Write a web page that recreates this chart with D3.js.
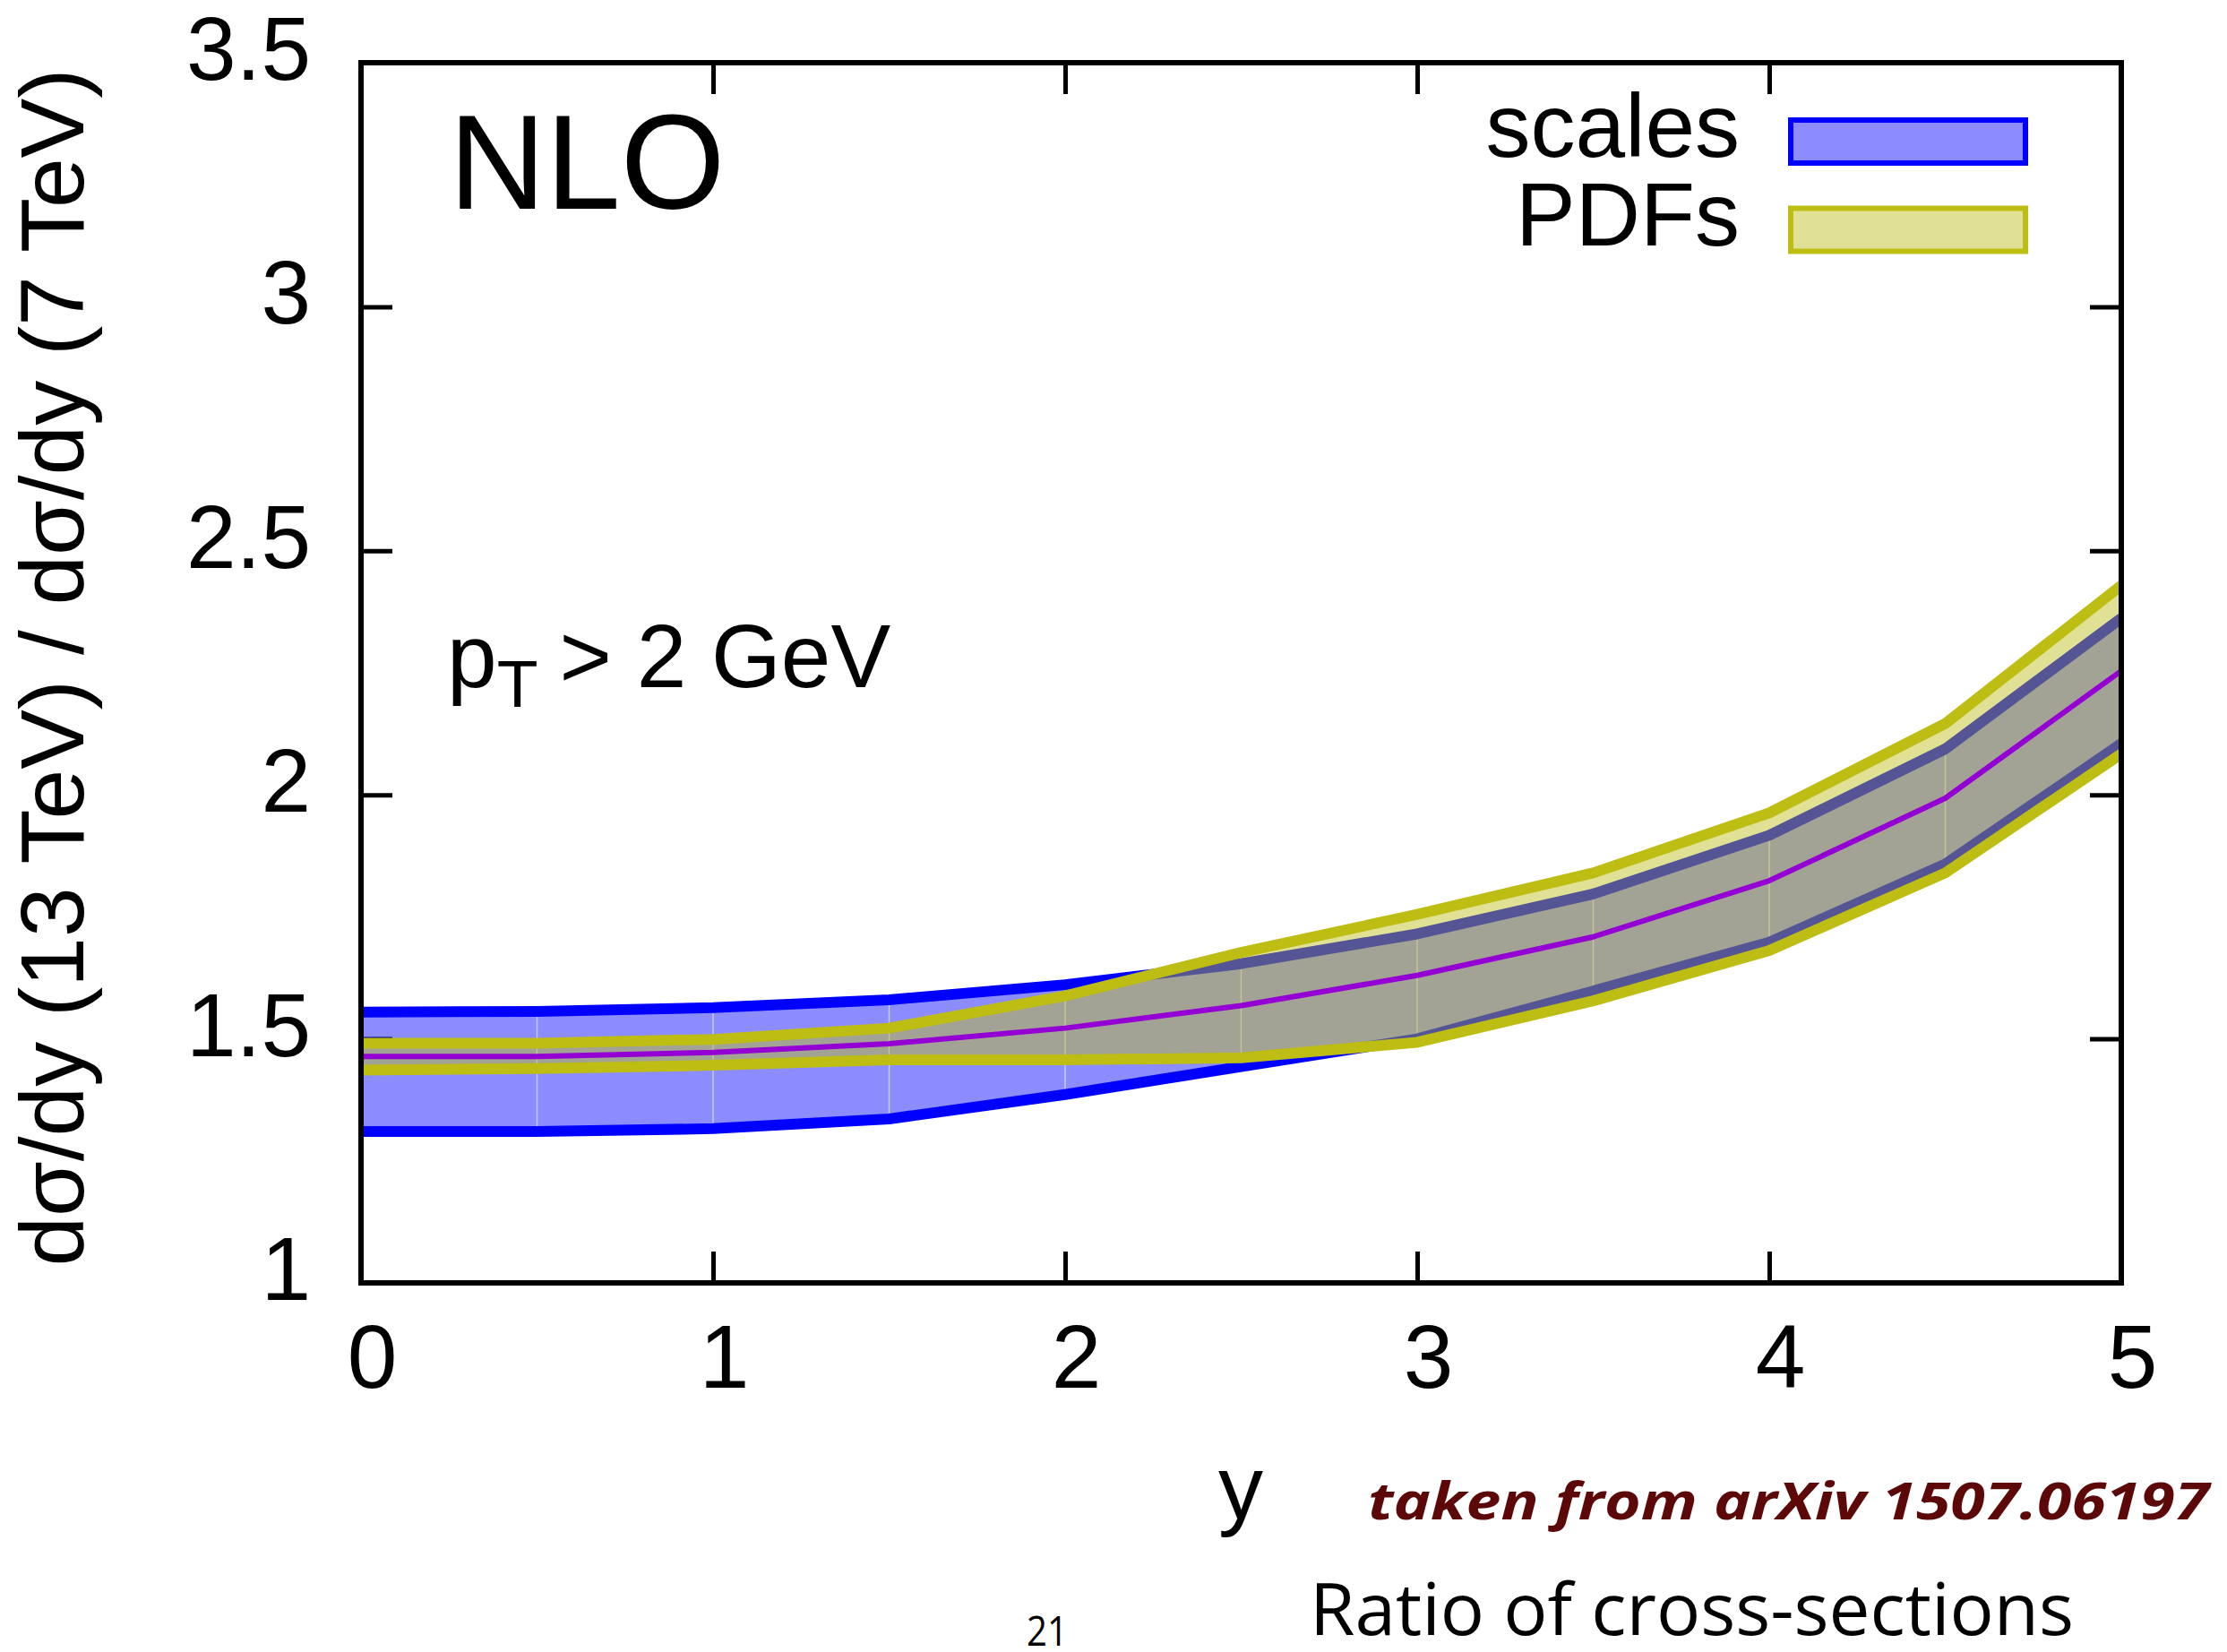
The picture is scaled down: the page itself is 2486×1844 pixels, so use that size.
<!DOCTYPE html>
<html>
<head>
<meta charset="utf-8">
<script src="https://cdn.jsdelivr.net/npm/d3@7"></script>
<style>
  html, body { margin: 0; padding: 0; background: #ffffff; }
  svg { display: block; }
</style>
</head>
<body>
<script>
// ---------- data ----------
const rapidity     = [0, 0.5, 1, 1.5, 2, 2.5, 3, 3.5, 4, 4.5, 5];
const scalesUpper  = [1.555, 1.556, 1.564, 1.580, 1.611, 1.654, 1.715, 1.797, 1.917, 2.094, 2.362];
const scalesLower  = [1.310, 1.310, 1.316, 1.336, 1.386, 1.443, 1.500, 1.598, 1.698, 1.858, 2.105];
const pdfUpper     = [1.491, 1.491, 1.499, 1.522, 1.588, 1.677, 1.755, 1.840, 1.963, 2.146, 2.429];
const pdfLower     = [1.436, 1.439, 1.446, 1.457, 1.457, 1.461, 1.493, 1.578, 1.681, 1.840, 2.084];
const central      = [1.464, 1.464, 1.472, 1.490, 1.522, 1.568, 1.630, 1.709, 1.824, 1.993, 2.254];
const xTicks       = [0, 1, 2, 3, 4, 5];
const yTicks       = [1, 1.5, 2, 2.5, 3, 3.5];
const yTickLabels  = ["1", "1.5", "2", "2.5", "3", "3.5"];
const legendLabels = ["scales", "PDFs"];

// ---------- layout ----------
const W = 2486, H = 1844;
const L = 403, R = 2368, T = 70, B = 1432;
const BLUE = "#0000ff", OLIVE = "#bdbd14", PURPLE = "#9400d3";
const FONT = "'Liberation Sans', Arial, Helvetica, sans-serif";

const svg = d3.select("body").append("svg")
  .attr("width", W).attr("height", H)
  .attr("viewBox", `0 0 ${W} ${H}`)
  .style("background", "#fff");

const x = d3.scaleLinear().domain([0, 5]).range([L, R]);
const y = d3.scaleLinear().domain([1, 3.5]).range([B, T]);

// ---------- axes (ticks inward) ----------
const tickLen = 35;
function styleAxis(g) {
  g.select(".domain").remove();
  g.selectAll(".tick line").attr("stroke", "#000").attr("stroke-width", 5);
}
svg.append("g").attr("transform", `translate(${L},0)`)
  .call(d3.axisLeft(y).tickValues(yTicks).tickSize(-tickLen).tickPadding(56)
        .tickFormat((d, i) => yTickLabels[i]))
  .call(styleAxis)
  .call(g => g.selectAll("text").attr("font-family", FONT).attr("font-size", 100)
        .attr("fill", "#000").attr("dy", "0.185em"));
svg.append("g").attr("transform", `translate(${R},0)`)
  .call(d3.axisRight(y).tickValues(yTicks).tickSize(-tickLen).tickFormat(""))
  .call(styleAxis);
svg.append("g").attr("transform", `translate(0,${B})`)
  .call(d3.axisBottom(x).tickValues(xTicks).tickSize(-tickLen).tickPadding(46)
        .tickFormat(d3.format("d")))
  .call(styleAxis)
  .call(g => g.selectAll("text").attr("font-family", FONT).attr("font-size", 100)
        .attr("fill", "#000").attr("dx", 12));
svg.append("g").attr("transform", `translate(0,${T})`)
  .call(d3.axisTop(x).tickValues(xTicks).tickSize(-tickLen).tickFormat(""))
  .call(styleAxis);

// ---------- bands ----------
svg.append("clipPath").attr("id", "plotclip")
  .append("rect").attr("x", L).attr("y", T).attr("width", R - L).attr("height", B - T);
const plot = svg.append("g").attr("clip-path", "url(#plotclip)");

const idx = d3.range(rapidity.length);
const area = (lo, hi) => d3.area().x(i => x(rapidity[i])).y0(i => y(lo[i])).y1(i => y(hi[i]));
const line = (v) => d3.line().x(i => x(rapidity[i])).y(i => y(v[i]));

// scales band fill
plot.append("path").datum(idx).attr("d", area(scalesLower, scalesUpper))
  .attr("fill", BLUE).attr("fill-opacity", 0.45).attr("stroke", "none");

// faint seams between polygon segments
plot.selectAll("line.seam").data(idx.slice(1, -1)).join("line")
  .attr("class", "seam")
  .attr("x1", i => x(rapidity[i])).attr("x2", i => x(rapidity[i]))
  .attr("y1", i => y(Math.max(scalesUpper[i], pdfUpper[i])) + 6)
  .attr("y2", i => y(Math.min(scalesLower[i], pdfLower[i])) - 6)
  .attr("stroke", "#ffffff").attr("stroke-width", 1.5).attr("stroke-opacity", 0.55);

// scales band borders
[scalesUpper, scalesLower].forEach(v => {
  plot.append("path").datum(idx).attr("d", line(v))
    .attr("fill", "none").attr("stroke", BLUE).attr("stroke-width", 12)
    .attr("stroke-linejoin", "round");
});

// PDF band fill
plot.append("path").datum(idx).attr("d", area(pdfLower, pdfUpper))
  .attr("fill", OLIVE).attr("fill-opacity", 0.45).attr("stroke", "none");

// PDF band borders
[pdfUpper, pdfLower].forEach(v => {
  plot.append("path").datum(idx).attr("d", line(v))
    .attr("fill", "none").attr("stroke", OLIVE).attr("stroke-width", 12)
    .attr("stroke-linejoin", "round");
});

// central value
plot.append("path").datum(idx).attr("d", line(central))
  .attr("fill", "none").attr("stroke", PURPLE).attr("stroke-width", 6)
  .attr("stroke-linejoin", "round");

// ---------- frame ----------
svg.append("rect").attr("x", L).attr("y", T).attr("width", R - L).attr("height", B - T)
  .attr("fill", "none").attr("stroke", "#000").attr("stroke-width", 6);

// ---------- legend ----------
const legendColors = [BLUE, OLIVE];
const leg = svg.append("g");
legendLabels.forEach((lab, i) => {
  const cy = 158 + i * 98.5;
  leg.append("text").attr("x", 1942).attr("y", cy + 17)
    .attr("text-anchor", "end").attr("font-family", FONT).attr("font-size", 100)
    .attr("fill", "#000").text(lab);
  leg.append("rect").attr("x", 1999).attr("y", cy - 24).attr("width", 262).attr("height", 48)
    .attr("fill", legendColors[i]).attr("fill-opacity", 0.45)
    .attr("stroke", legendColors[i]).attr("stroke-width", 6);
});

// ---------- annotations ----------
svg.append("text").attr("x", 501).attr("y", 233)
  .attr("font-family", FONT).attr("font-size", 150).attr("fill", "#000").text("NLO");

const pt = svg.append("text").attr("x", 499).attr("y", 767)
  .attr("font-family", FONT).attr("font-size", 100).attr("fill", "#000");
pt.append("tspan").text("p");
pt.append("tspan").attr("font-size", 75).attr("dy", 22).text("T");
pt.append("tspan").attr("dy", -22).attr("dx", 24).text("> 2 GeV");

// y-axis title
svg.append("text")
  .attr("transform", "translate(93,745) rotate(-90)")
  .attr("text-anchor", "middle").attr("font-family", FONT).attr("font-size", 100)
  .attr("fill", "#000").text("dσ/dy (13 TeV) / dσ/dy (7 TeV)");

// x-axis title
svg.append("text").attr("x", 1385).attr("y", 1695)
  .attr("text-anchor", "middle").attr("font-family", FONT).attr("font-size", 100)
  .attr("fill", "#000").text("y");

// slide annotations
svg.append("text").attr("x", 1527).attr("y", 1696)
  .attr("font-family", "'Open Sans', Lato, sans-serif").attr("font-size", 58)
  .attr("font-weight", "bold").attr("font-style", "italic")
  .attr("fill", "#5c0808")
  .attr("textLength", 939).attr("lengthAdjust", "spacingAndGlyphs")
  .text("taken from arXiv 1507.06197");

svg.append("text").attr("x", 1462).attr("y", 1825)
  .attr("font-family", "'Open Sans', Lato, sans-serif").attr("font-size", 80)
  .attr("fill", "#000")
  .attr("textLength", 853).attr("lengthAdjust", "spacingAndGlyphs")
  .text("Ratio of cross-sections");

svg.append("text").attr("x", 1146).attr("y", 1837)
  .attr("font-family", "'Open Sans', Lato, sans-serif").attr("font-size", 45)
  .attr("fill", "#000")
  .attr("textLength", 46).attr("lengthAdjust", "spacingAndGlyphs")
  .text("21");
</script>
</body>
</html>
